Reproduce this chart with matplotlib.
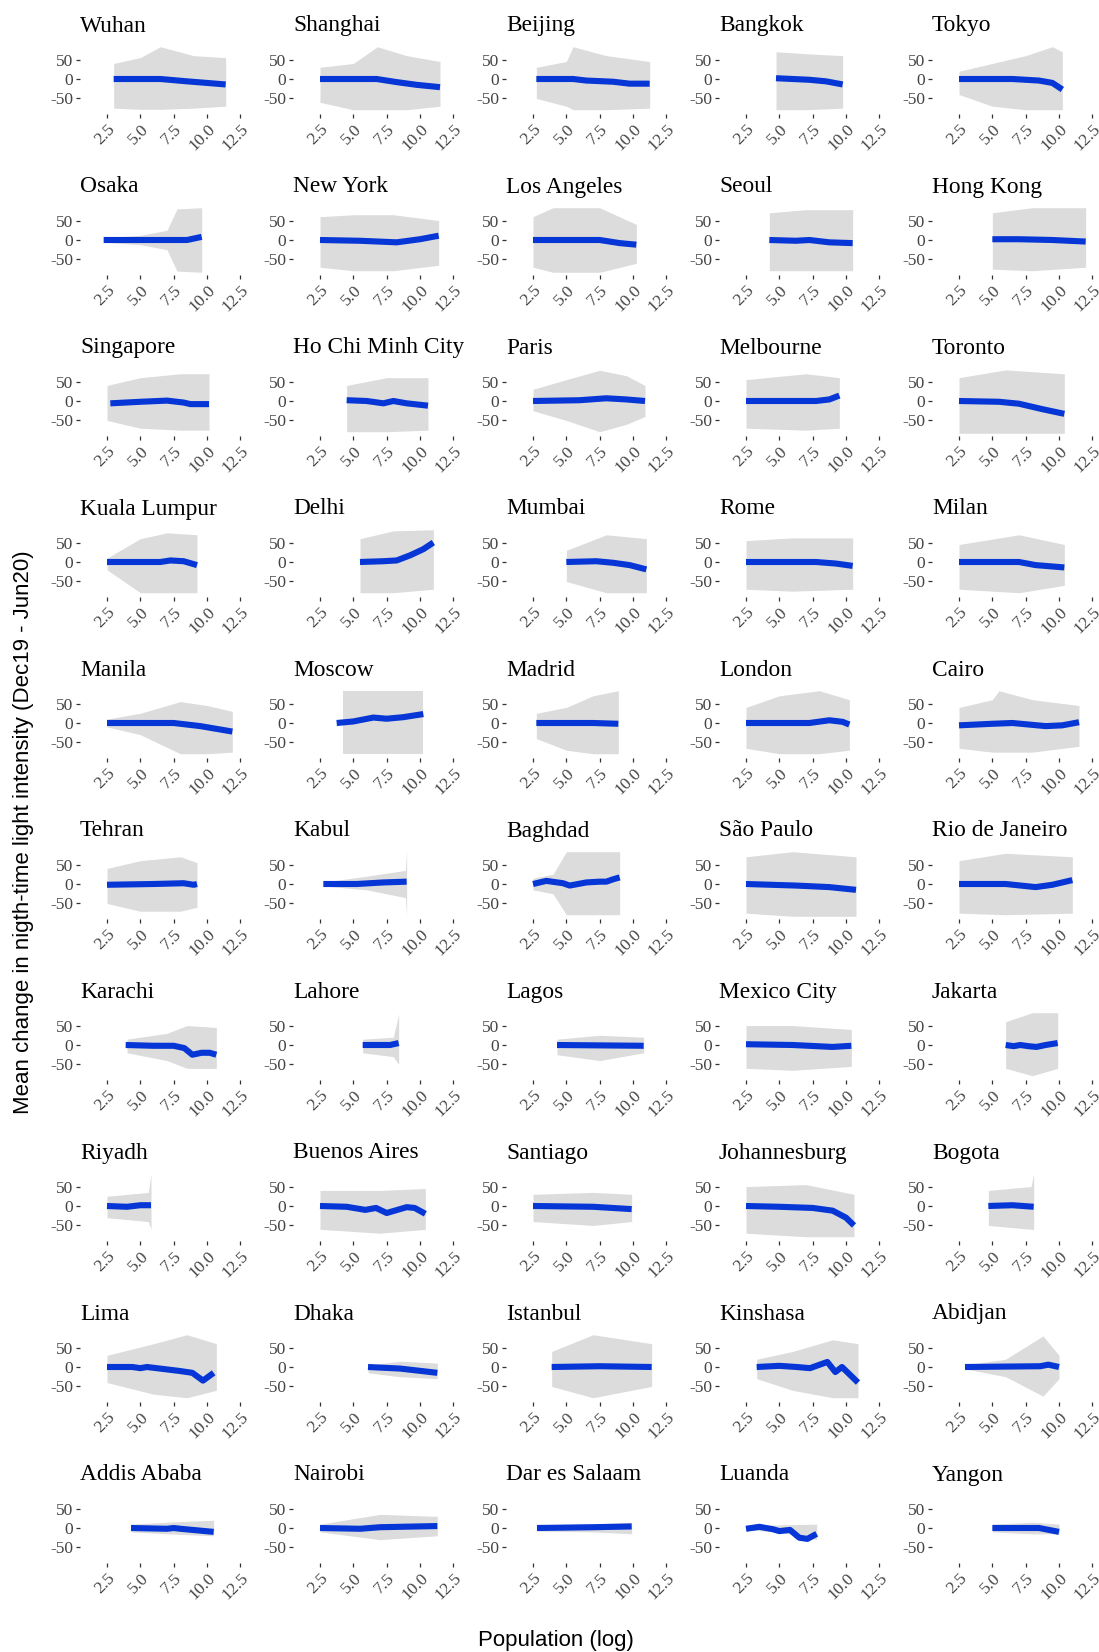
import matplotlib
matplotlib.use('Agg')
import matplotlib.pyplot as plt

cities = ['Wuhan', 'Shanghai', 'Beijing', 'Bangkok', 'Tokyo',
          'Osaka', 'New York', 'Los Angeles', 'Seoul', 'Hong Kong',
          'Singapore', 'Ho Chi Minh City', 'Paris', 'Melbourne', 'Toronto',
          'Kuala Lumpur', 'Delhi', 'Mumbai', 'Rome', 'Milan',
          'Manila', 'Moscow', 'Madrid', 'London', 'Cairo',
          'Tehran', 'Kabul', 'Baghdad', 'São Paulo', 'Rio de Janeiro',
          'Karachi', 'Lahore', 'Lagos', 'Mexico City', 'Jakarta',
          'Riyadh', 'Buenos Aires', 'Santiago', 'Johannesburg', 'Bogota',
          'Lima', 'Dhaka', 'Istanbul', 'Kinshasa', 'Abidjan',
          'Addis Ababa', 'Nairobi', 'Dar es Salaam', 'Luanda', 'Yangon']

# extent of the grey point cloud (population log -> upper / lower bound)
cloud_x = [
    [3.0, 5.0, 6.5, 9.0, 11.4], [2.5, 5.0, 6.8, 9.0, 11.5], [2.75, 5.0, 5.5, 8.0, 11.25], [4.75, 7.0, 9.75], [2.5, 5.0, 7.5, 9.5, 10.25],
    [2.25, 5.0, 7.0, 7.75, 9.6], [2.5, 5.0, 8.0, 11.4], [2.5, 4.0, 7.5, 10.25], [4.25, 7.0, 10.5], [5.0, 8.0, 12.0],
    [2.5, 5.0, 8.0, 10.15], [4.5, 7.5, 10.6], [2.5, 5.0, 7.5, 9.5, 10.9], [2.5, 7.0, 9.5], [2.5, 6.0, 10.4],
    [2.5, 5.0, 7.0, 9.25], [5.5, 8.0, 11.0], [5.0, 8.0, 11.0], [2.5, 6.0, 10.5], [2.5, 7.0, 10.4],
    [2.5, 5.0, 8.0, 10.0, 11.9], [4.2, 10.25], [2.75, 5.0, 7.0, 8.9], [2.5, 5.0, 8.0, 10.25], [2.5, 5.0, 5.5, 8.0, 11.5],
    [2.5, 5.0, 8.0, 9.25], [2.75, 6.0, 8.9, 9.0], [2.5, 4.0, 5.0, 9.0], [2.5, 6.0, 10.75], [2.5, 6.0, 11.0],
    [4.0, 7.0, 8.5, 10.7], [5.7, 8.0, 8.4], [4.3, 7.5, 10.8], [2.5, 6.0, 10.4], [6.0, 8.0, 9.9],
    [2.5, 5.6, 5.8], [2.5, 7.0, 10.4], [2.5, 7.0, 9.9], [2.5, 7.0, 10.6], [4.7, 7.9, 8.1],
    [2.5, 6.0, 8.5, 10.7], [6.1, 8.5, 11.3], [3.9, 7.0, 11.4], [3.3, 6.0, 9.0, 10.9], [2.95, 6.0, 8.8, 10.0],
    [4.3, 7.0, 10.5], [2.5, 7.0, 11.3], [2.8, 7.0, 9.9], [2.5, 5.0, 7.8], [5.0, 8.0, 10.0]]
cloud_hi = [
    [40, 55, 83, 60, 55], [30, 40, 83, 60, 45], [30, 45, 83, 60, 45], [70, 65, 60], [20, 40, 60, 83, 70],
    [6, 12, 25, 80, 83], [60, 65, 65, 50], [60, 83, 83, 40], [70, 78, 78], [70, 83, 83],
    [40, 60, 70, 70], [40, 60, 60], [30, 55, 79, 65, 40], [55, 70, 60], [60, 80, 70],
    [10, 60, 75, 70], [60, 80, 83], [30, 70, 60], [55, 62, 62], [45, 70, 45],
    [10, 25, 55, 45, 30], [83, 83], [25, 40, 70, 83], [40, 70, 83, 60], [40, 60, 83, 60, 45],
    [40, 60, 70, 55], [5, 20, 35, 83], [15, 25, 83, 83], [70, 83, 70], [60, 79, 70],
    [15, 30, 50, 45], [15, 20, 80], [15, 25, 20], [50, 50, 40], [60, 83, 83],
    [25, 35, 83], [40, 40, 45], [30, 35, 30], [50, 55, 30], [40, 50, 83],
    [30, 60, 83, 60], [5, 15, 10], [40, 83, 60], [20, 40, 70, 60], [5, 20, 80, 30],
    [10, 15, 20], [10, 35, 30], [8, 10, 15], [5, 8, 10], [10, 15, 10]]
cloud_lo = [
    [-75, -78, -78, -75, -70], [-60, -79, -79, -79, -70], [-50, -70, -79, -79, -75], [-79, -79, -75], [-40, -70, -79, -79, -79],
    [-6, -12, -25, -80, -83], [-70, -79, -79, -65], [-70, -83, -83, -60], [-79, -79, -79], [-75, -79, -70],
    [-50, -70, -75, -75], [-79, -79, -75], [-25, -50, -79, -60, -40], [-70, -75, -70], [-83, -83, -83],
    [-20, -79, -79, -79], [-79, -79, -70], [-50, -79, -79], [-70, -75, -70], [-70, -79, -60],
    [-10, -30, -79, -79, -75], [-79, -79], [-40, -70, -79, -79], [-65, -79, -79, -70], [-65, -75, -75, -75, -60],
    [-50, -70, -70, -60], [-5, -15, -35, -79], [-15, -25, -79, -79], [-75, -83, -83], [-75, -79, -75],
    [-20, -40, -60, -60], [-20, -30, -50], [-25, -40, -20], [-60, -65, -55], [-60, -79, -60],
    [-30, -40, -60], [-60, -70, -60], [-40, -50, -40], [-70, -79, -79], [-50, -60, -60],
    [-40, -70, -79, -60], [-15, -25, -30], [-50, -79, -50], [-30, -60, -79, -79], [-5, -25, -75, -30],
    [-10, -15, -20], [-10, -30, -20], [-8, -10, -15], [-5, -10, -30], [-10, -15, -15]]

# smoothed trend line
fit_x = [
    [3.0, 6.5, 8.5, 11.4], [2.5, 6.75, 8.25, 9.75, 11.5], [2.75, 5.5, 6.5, 8.5, 9.75, 11.25], [4.75, 7.25, 8.5, 9.75], [2.5, 6.5, 8.5, 9.5, 10.25],
    [2.25, 8.5, 9.6], [2.5, 5.5, 8.25, 10.0, 11.4], [2.5, 7.5, 9.0, 10.25], [4.25, 6.25, 7.25, 8.75, 10.5], [5.0, 7.0, 9.5, 12.0],
    [2.75, 5.0, 7.0, 8.25, 8.75, 10.15], [4.5, 6.0, 7.25, 8.0, 9.0, 10.6], [2.5, 6.0, 8.0, 9.5, 10.9], [2.5, 7.75, 8.75, 9.5], [2.5, 5.5, 7.0, 8.75, 10.4],
    [2.5, 6.5, 7.25, 8.25, 9.25], [5.5, 7.25, 8.25, 9.25, 10.25, 11.0], [5.0, 7.25, 8.5, 9.75, 11.0], [2.5, 7.75, 9.25, 10.5], [2.5, 7.0, 8.25, 10.4],
    [2.5, 7.5, 9.5, 11.9], [3.75, 5.0, 6.5, 7.5, 8.75, 10.25], [2.75, 7.0, 8.9], [2.5, 7.25, 8.75, 9.75, 10.25], [2.5, 5.0, 6.5, 9.0, 10.25, 11.5],
    [2.5, 6.0, 8.25, 9.0, 9.25], [2.75, 5.25, 7.25, 9.0], [2.5, 3.5, 4.75, 5.25, 6.5, 7.5, 8.0, 8.5, 9.0], [2.5, 6.25, 8.75, 10.75], [2.5, 6.0, 8.25, 9.5, 11.0],
    [3.9, 6.0, 7.5, 8.3, 8.9, 9.6, 10.2, 10.7], [5.7, 7.75, 8.4], [4.3, 7.5, 10.8], [2.5, 6.0, 9.0, 10.4], [6.0, 6.6, 7.1, 7.7, 8.3, 9.0, 9.9],
    [2.5, 4.0, 5.0, 5.8], [2.5, 4.5, 5.9, 6.7, 7.5, 8.3, 9.0, 9.6, 10.4], [2.5, 7.0, 9.9], [2.5, 5.0, 7.5, 9.0, 10.0, 10.6], [4.7, 6.5, 8.1],
    [2.5, 4.4, 5.0, 5.5, 6.7, 7.9, 8.9, 9.7, 10.5], [6.1, 8.5, 11.3], [3.9, 7.5, 11.4], [3.3, 5.0, 6.3, 7.3, 8.6, 9.2, 9.7, 10.3, 10.9], [2.95, 8.6, 9.2, 10.0],
    [4.3, 7.0, 7.5, 8.0, 10.5], [2.5, 5.5, 7.0, 11.3], [2.8, 7.0, 9.9], [2.5, 3.5, 4.5, 5.0, 5.8, 6.5, 7.1, 7.8], [5.0, 8.5, 10.0]]
fit_y = [
    [0, 0, -6, -14], [0, 0, -8, -15, -21], [0, 0, -4, -7, -12, -12], [2, -2, -6, -14], [0, 0, -4, -10, -27],
    [0, 0, 8], [0, -2, -6, 2, 11], [0, 0, -8, -12], [0, -2, 0, -6, -8], [2, 2, 0, -4],
    [-6, -2, 1, -4, -8, -8], [2, 0, -6, 0, -6, -12], [0, 2, 7, 4, 0], [0, 0, 4, 14], [0, -2, -7, -21, -33],
    [0, 0, 4, 2, -8], [0, 2, 4, 17, 33, 50], [0, 2, -2, -8, -19], [0, 0, -4, -10], [0, 0, -8, -14],
    [0, 0, -8, -22], [0, 4, 14, 11, 15, 23], [0, 0, -2], [0, 0, 7, 3, -4], [-6, -2, 0, -8, -6, 2],
    [-2, 0, 2, -2, 0], [0, 0, 4, 6], [0, 8, 2, -4, 4, 6, 6, 12, 17], [0, -4, -8, -15], [0, 0, -8, -2, 10],
    [0, -2, -2, -8, -25, -20, -20, -25], [0, 0, 5], [0, -1, -2], [2, 0, -5, -2], [0, -3, 0, -3, -5, 0, 5],
    [0, -2, 2, 2], [0, -2, -10, -5, -18, -10, -3, -5, -20], [0, -2, -8], [0, -2, -5, -12, -30, -50], [0, 2, -2],
    [0, 0, -3, 0, -5, -10, -15, -35, -15], [0, -4, -15], [0, 2, 0], [0, 3, 0, -3, 13, -13, 0, -20, -40], [0, 2, 6, 0],
    [0, -2, 0, -2, -10], [0, -2, 2, 5], [0, 2, 4], [-2, 3, -3, -8, -5, -25, -28, -15], [0, 0, -10]]

x_ticks = [2.5, 5.0, 7.5, 10.0, 12.5]
x_ticklabels = ['2.5', '5.0', '7.5', '10.0', '12.5']
y_ticks = [-50, 0, 50]
y_ticklabels = ['-50', '0', '50']

W, H = 1099, 1652
fig = plt.figure(figsize=(W / 100, H / 100), dpi=100)

serif = 'Liberation Serif'
for i, name in enumerate(cities):
    r, c = divmod(i, 5)
    left = 80 + 213 * c
    top = 44 + 161 * r
    ax = fig.add_axes([left / W, 1 - (top + 70) / H, 167 / W, 70 / H])
    ax.fill_between(cloud_x[i], cloud_lo[i], cloud_hi[i], color='#dcdcdc', lw=0)
    ax.plot(fit_x[i], fit_y[i], color='#0636d6', lw=4.4, solid_capstyle='butt',
            solid_joinstyle='round')
    ax.set_xlim(0.475, 13.0)
    ax.set_ylim(-90, 90)
    for s in ax.spines.values():
        s.set_visible(False)
    ax.set_xticks(x_ticks)
    ax.set_xticklabels(x_ticklabels, rotation=45, ha='right', va='top',
                       rotation_mode='anchor', family=serif, fontsize=12.5, color='#444444')
    ax.set_yticks(y_ticks)
    ax.set_yticklabels(y_ticklabels, family=serif, fontsize=12.5, color='#444444')
    ax.tick_params(length=3, width=0.9, color='#333333', pad=2)
    ax.set_title(name, loc='left', family=serif, fontsize=16.8, pad=9, color='black')

fig.text(556 / W, 1 - 1646 / H, 'Population (log)', ha='center', va='baseline',
         family='Liberation Sans', fontsize=16)
fig.text(24 / W, 1 - 832 / H, 'Mean change in nigth-time light intensity (Dec19 - Jun20)',
         rotation=90, ha='center', va='center', family='Liberation Sans', fontsize=16)

plt.savefig('out.png', dpi=100)
